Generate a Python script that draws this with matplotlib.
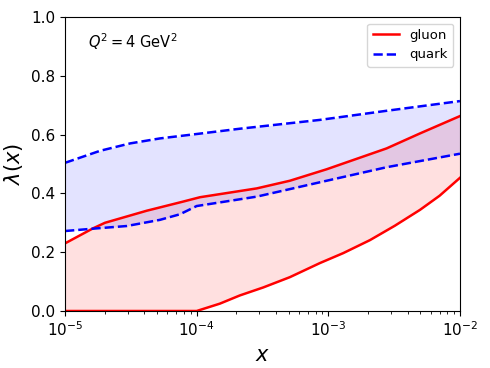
import numpy as np
import matplotlib
matplotlib.use("Agg")
import matplotlib.pyplot as plt

# gluon band
x_g_up = [1e-5, 1.63e-5, 2.01e-5, 4.17e-5, 7.87e-5, 1.06e-4, 2.86e-4, 5.1e-4,
          9.7e-4, 2.77e-3, 4.97e-3, 1e-2]
g_up = [0.230, 0.281, 0.300, 0.341, 0.372, 0.387, 0.417, 0.443,
        0.482, 0.553, 0.604, 0.663]
x_g_lo = [1e-5, 1e-4, 1.5e-4, 2.13e-4, 3.2e-4, 5.1e-4, 8.63e-4, 1.3e-3,
          2.07e-3, 3.2e-3, 4.97e-3, 7e-3, 1e-2]
g_lo = [0.0, 0.0, 0.025, 0.053, 0.080, 0.115, 0.163, 0.197,
        0.241, 0.290, 0.344, 0.392, 0.453]

# quark band
x_q_up = [1e-5, 1.85e-5, 3.12e-5, 5.26e-5, 1e-4, 2.13e-4, 8.63e-4, 2.77e-3, 1e-2]
q_up = [0.504, 0.545, 0.570, 0.587, 0.602, 0.620, 0.650, 0.681, 0.714]
x_q_lo = [1e-5, 1.63e-5, 2.94e-5, 5.26e-5, 7.46e-5, 1e-4, 2.86e-4, 9.7e-4,
          2.77e-3, 1e-2]
q_lo = [0.272, 0.280, 0.289, 0.310, 0.329, 0.357, 0.389, 0.443, 0.489, 0.535]

xx = np.logspace(-5, -2, 300)

def interp(xs, ys):
    return np.interp(np.log10(xx), np.log10(xs), ys)

fig = plt.figure(figsize=(4.9, 3.68), dpi=100)
ax = fig.add_axes([0.1327, 0.1549, 0.806, 0.7989])

gu, gl = interp(x_g_up, g_up), interp(x_g_lo, g_lo)
qu, ql = interp(x_q_up, q_up), interp(x_q_lo, q_lo)

ax.fill_between(xx, gl, gu, color='red', alpha=0.12, lw=0)
ax.fill_between(xx, ql, qu, color='blue', alpha=0.11, lw=0)
ax.plot(x_g_up, g_up, color='red', lw=1.8, label='gluon')
ax.plot(x_g_lo, g_lo, color='red', lw=1.8)
ax.plot(x_q_up, q_up, color='blue', lw=1.8, ls='--', label='quark')
ax.plot(x_q_lo, q_lo, color='blue', lw=1.8, ls='--')

ax.set_xscale('log')
ax.set_xlim(1e-5, 1e-2)
ax.set_ylim(0, 1)
ax.tick_params(labelsize=11)
ax.set_xlabel(r'$x$', fontsize=15)
ax.set_ylabel(r'$\lambda(x)$', fontsize=15)
ax.text(0.058, 0.915, r'$Q^2 = 4\ \mathrm{GeV}^2$', transform=ax.transAxes,
        fontsize=10.5, va='center')
ax.legend(loc='upper right', fontsize=9.5)

fig.savefig('out.png', dpi=100)
